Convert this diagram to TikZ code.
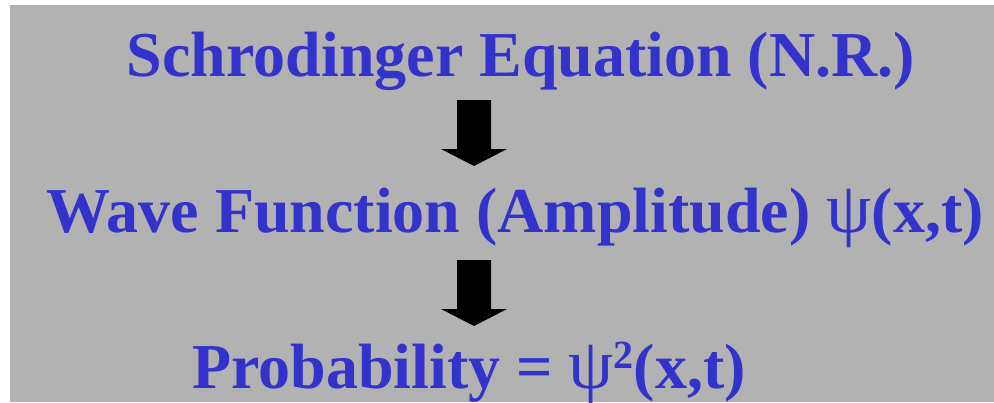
\documentclass[tikz,border=0pt]{standalone}
\usepackage{fontspec}
\setmainfont{Liberation Serif}
\definecolor{bggray}{HTML}{B2B2B2}
\definecolor{txtblue}{HTML}{3333CC}
\tikzset{
  line/.style={anchor=base, inner sep=0pt, text=txtblue, font=\fontsize{64}{64}\selectfont\bfseries},
  blockarrow/.style={fill=black, draw=none}
}
\newcommand{\psichar}{{\mdseries\fontsize{72}{72}\selectfont ψ}}
\newcommand{\sqmark}{\raisebox{20pt}{\fontsize{40}{40}\selectfont 2}}
\begin{document}
\begin{tikzpicture}[x=1pt,y=-1pt]
\useasboundingbox (0,0) rectangle (994,402);
\fill[bggray] (10,5) rectangle (994,402);
\node[line] (l1) at (521,76) {Schrodinger Equation (N.R.)};
\node[line] (l2) at (515,232) {Wave Function (Amplitude) \psichar(x,t)};
\node[line] (l3) at (469,388) {Probability = \psichar\sqmark(x,t)};
\coordinate (a1) at (474,100);
\coordinate (a2) at (474,260);
\foreach \a in {a1,a2}{
  \fill[blockarrow] ([xshift=-17pt]\a) -- ([xshift=17pt]\a) -- ([xshift=17pt,yshift=-49pt]\a)
    -- ([xshift=33pt,yshift=-49pt]\a) -- ([yshift=-66pt]\a) -- ([xshift=-33pt,yshift=-49pt]\a)
    -- ([xshift=-17pt,yshift=-49pt]\a) -- cycle;
}
\end{tikzpicture}
\end{document}
